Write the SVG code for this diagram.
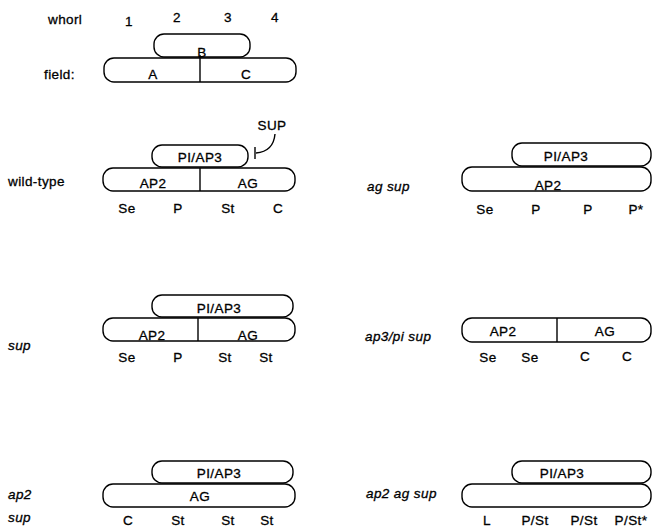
<svg xmlns="http://www.w3.org/2000/svg" width="652" height="527" viewBox="0 0 652 527">
<style>
.b{fill:#fff;stroke:#000;stroke-width:1.4}
.l{stroke:#000;stroke-width:1.4;fill:none}
text{font-family:"Liberation Sans",Arial,sans-serif;font-size:13.5px;letter-spacing:0.4px;fill:#000;stroke:#000;stroke-width:0.3px;text-anchor:middle}
.lab{text-anchor:start}
.i{font-style:italic;text-anchor:start}
</style>
<rect width="652" height="527" fill="#fff"/>
<g id="header">
<text class="lab" x="48" y="24">whorl</text>
<text x="129" y="26">1</text>
<text x="177" y="22">2</text>
<text x="228" y="22">3</text>
<text x="275" y="22">4</text>
<text class="lab" x="44" y="79">field:</text>
</g>
<g id="field">
<rect class="b" x="154" y="34" width="96" height="23" rx="10"/>
<rect class="b" x="104" y="58" width="192" height="24" rx="10"/>
<line class="l" x1="200" y1="55" x2="200" y2="82"/>
<text x="202" y="57">B</text>
<text x="153" y="79">A</text>
<text x="246" y="79">C</text>
</g>
<g id="wild-type">
<text class="lab" x="8" y="186">wild-type</text>
<rect class="b" x="152" y="145" width="96" height="22" rx="10"/>
<rect class="b" x="103" y="168" width="192" height="23" rx="10"/>
<line class="l" x1="200" y1="168" x2="200" y2="191"/>
<text x="200" y="162">PI/AP3</text>
<text x="153" y="188">AP2</text>
<text x="248" y="188">AG</text>
<text x="127" y="213">Se</text><text x="178" y="213">P</text><text x="228" y="213">St</text><text x="278" y="213">C</text>
<text x="272" y="130">SUP</text>
<path class="l" d="M275,134 C274,145 268,152 256,153"/>
<line class="l" x1="255" y1="147" x2="255" y2="159"/>
</g>
<g id="ag-sup">
<text class="i" x="367" y="191">ag sup</text>
<rect class="b" x="512" y="143" width="139" height="23" rx="10"/>
<rect class="b" x="462" y="167" width="189" height="24" rx="10"/>
<text x="566" y="161">PI/AP3</text>
<text x="548" y="190">AP2</text>
<text x="485" y="214">Se</text><text x="536" y="214">P</text><text x="588" y="214">P</text><text x="636" y="214">P*</text>
</g>
<g id="sup">
<text class="i" x="8" y="350">sup</text>
<rect class="b" x="152" y="295" width="141" height="22" rx="10"/>
<rect class="b" x="103" y="318" width="192" height="23" rx="10"/>
<line class="l" x1="198" y1="318" x2="198" y2="341"/>
<text x="219" y="313">PI/AP3</text>
<text x="152" y="340">AP2</text>
<text x="248" y="340">AG</text>
<text x="127" y="362">Se</text><text x="178" y="362">P</text><text x="225" y="362">St</text><text x="266" y="362">St</text>
</g>
<g id="ap3-pi-sup">
<text class="i" x="365" y="341">ap3/pi sup</text>
<rect class="b" x="462" y="318" width="189" height="24" rx="10"/>
<line class="l" x1="557" y1="318" x2="557" y2="342"/>
<text x="503" y="336">AP2</text>
<text x="605" y="336">AG</text>
<text x="488" y="362">Se</text><text x="530" y="362">Se</text><text x="585" y="361">C</text><text x="627" y="361">C</text>
</g>
<g id="ap2-sup">
<text class="i" x="8" y="499">ap2</text>
<text class="i" x="8" y="522">sup</text>
<rect class="b" x="152" y="461" width="141" height="22" rx="10"/>
<rect class="b" x="103" y="484" width="192" height="23" rx="10"/>
<text x="219" y="478">PI/AP3</text>
<text x="200" y="501">AG</text>
<text x="128" y="525">C</text><text x="178" y="525">St</text><text x="228" y="525">St</text><text x="267" y="525">St</text>
</g>
<g id="ap2-ag-sup">
<text class="i" x="366" y="498">ap2 ag sup</text>
<rect class="b" x="512" y="461" width="139" height="22" rx="10"/>
<rect class="b" x="462" y="484" width="189" height="23" rx="10"/>
<text x="562" y="478">PI/AP3</text>
<text x="487" y="525">L</text><text x="535" y="525">P/St</text><text x="584" y="525">P/St</text><text x="631" y="525">P/St*</text>
</g>
</svg>
